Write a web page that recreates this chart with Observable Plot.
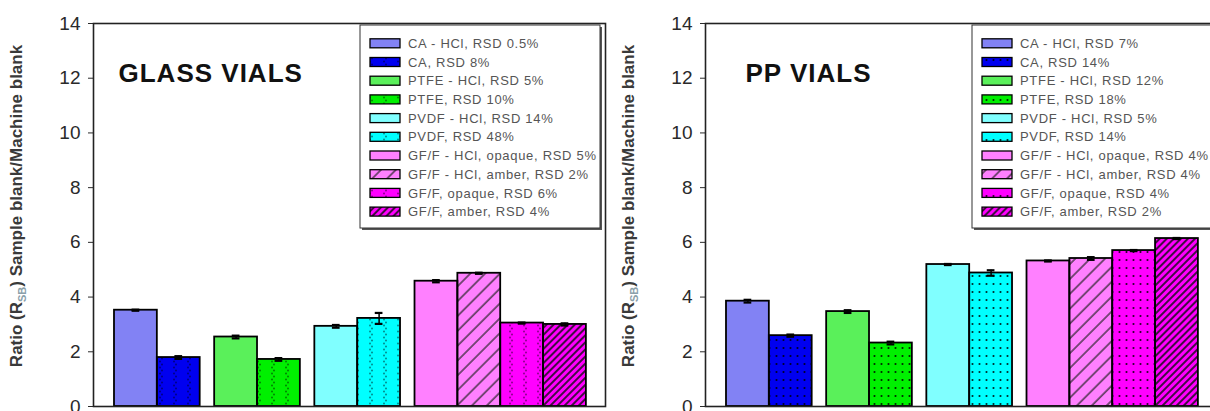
<!DOCTYPE html>
<html><head><meta charset="utf-8">
<script src="https://cdn.jsdelivr.net/npm/d3@7"></script>
<script src="https://cdn.jsdelivr.net/npm/@observablehq/plot@0.6"></script>
<style>
html,body{margin:0;padding:0;background:#fff;overflow:hidden}
#wrap{position:relative;width:1210px;height:411px;overflow:hidden}
#wrap svg{position:absolute;top:0;overflow:visible}
</style></head><body><div id="wrap"></div>
<script>
// ---- data ----
const categories = ["CA - HCl", "CA", "PTFE - HCl", "PTFE", "PVDF - HCl", "PVDF",
  "GF/F - HCl, opaque", "GF/F - HCl, amber", "GF/F, opaque", "GF/F, amber"];
const groups = [0, 0, 1, 1, 2, 2, 3, 3, 3, 3];
const colors = ["#8282f4", "#0000f0", "#5af05a", "#00f000", "#80ffff", "#00ffff",
  "#ff80ff", "#ff80ff", "#ff00ff", "#ff00ff"];
const fills = ["solid", "dots", "solid", "dots", "solid", "dots", "solid", "hatch", "dots", "hatchDense"];
const glassValues = [3.52, 1.79, 2.54, 1.72, 2.93, 3.22, 4.58, 4.87, 3.05, 3.00];
const glassErrors = [0.02, 0.05, 0.05, 0.05, 0.05, 0.20, 0.04, 0.02, 0.02, 0.04];
const glassRSD = ["0.5%", "8%", "5%", "10%", "14%", "48%", "5%", "2%", "6%", "4%"];
const ppValues = [3.85, 2.59, 3.47, 2.32, 5.19, 4.88, 5.32, 5.41, 5.70, 6.14];
const ppErrors = [0.05, 0.04, 0.05, 0.05, 0.02, 0.10, 0.02, 0.05, 0.02, 0.02];
const ppRSD = ["7%", "14%", "12%", "18%", "5%", "14%", "4%", "4%", "4%", "2%"];
const titles = ["GLASS VIALS", "PP VIALS"];
const yTicks = [0, 2, 4, 6, 8, 10, 12, 14];

const GAP = 0.338;
const FONT = "'Liberation Sans', Arial, sans-serif";

function rowsFor(values, errors, rsd) {
  return categories.map((c, i) => ({
    cat: c, pos: i + groups[i] * GAP, value: values[i], err: errors[i],
    color: colors[i], fill: fills[i], label: `${c}, RSD ${rsd[i]}`
  }));
}

function addPatterns(g, prefix, denseDots) {
  const defs = g.insert("defs", ":first-child");
  if (denseDots) {
    const p = defs.append("pattern").attr("id", prefix + "-dots").attr("patternUnits", "userSpaceOnUse")
      .attr("width", 7).attr("height", 8);
    p.append("circle").attr("cx", 3.5).attr("cy", 4).attr("r", 1.05).attr("fill", "#000").attr("opacity", 0.85);
  } else {
    const p = defs.append("pattern").attr("id", prefix + "-dots").attr("patternUnits", "userSpaceOnUse")
      .attr("width", 14).attr("height", 6);
    p.append("circle").attr("cx", 6).attr("cy", 1.5).attr("r", 1).attr("fill", "#000").attr("opacity", 0.45);
    p.append("circle").attr("cx", 8).attr("cy", 4.5).attr("r", 1).attr("fill", "#000").attr("opacity", 0.45);
  }
  const h = defs.append("pattern").attr("id", prefix + "-hatch").attr("patternUnits", "userSpaceOnUse")
    .attr("width", 10.5).attr("height", 10).attr("patternTransform", "rotate(45)");
  h.append("line").attr("x1", 1).attr("x2", 1).attr("y1", 0).attr("y2", 10).attr("stroke", "#222").attr("stroke-width", 1.2);
  const hd = defs.append("pattern").attr("id", prefix + "-hatchDense").attr("patternUnits", "userSpaceOnUse")
    .attr("width", 5).attr("height", 10).attr("patternTransform", "rotate(45)");
  hd.append("line").attr("x1", 1).attr("x2", 1).attr("y1", 0).attr("y2", 10).attr("stroke", "#111").attr("stroke-width", 1.6);
}

function panel({values, errors, rsd, title, prefix, left, width, marginLeft, titleDx, denseDots}) {
  const rows = rowsFor(values, errors, rsd);
  const pat = rows.filter(d => d.fill !== "solid");
  const svg = Plot.plot({
    width, height: 411,
    marginLeft, marginRight: width - marginLeft - 512, marginTop: 23, marginBottom: 5,
    style: {fontFamily: FONT, fontSize: "19px", color: "#2a2a2a", background: "transparent", overflow: "visible"},
    x: {domain: [-0.49, 11.46], axis: null},
    y: {domain: [0, 14], ticks: yTicks, tickSize: 5, tickPadding: 8, label: null, line: true},
    color: {type: "identity"},
    marks: [
      Plot.rectY(rows, {x1: "pos", x2: d => d.pos + 1, y: "value", fill: "color"}),
      Plot.rectY(pat, {x1: "pos", x2: d => d.pos + 1, y: "value", fill: d => `url(#${prefix}-${d.fill})`}),
      Plot.rectY(rows, {x1: "pos", x2: d => d.pos + 1, y: "value", fill: "none", stroke: "#000", strokeWidth: 1.8}),
      Plot.ruleX(rows, {x: d => d.pos + 0.5, y1: d => d.value - d.err, y2: d => d.value + d.err, stroke: "#000", strokeWidth: 1.5}),
      Plot.ruleY(rows, {y: d => d.value + d.err, x1: d => d.pos + 0.41, x2: d => d.pos + 0.59, stroke: "#000", strokeWidth: 2.2}),
      Plot.ruleY(rows, {y: d => d.value - d.err, x1: d => d.pos + 0.41, x2: d => d.pos + 0.59, stroke: "#000", strokeWidth: 2.2}),
      Plot.frame({stroke: "#222", strokeWidth: 1.6}),
      Plot.text([title], {text: d => d, frameAnchor: "top-left", dx: titleDx, dy: 40, textAnchor: "start",
        lineAnchor: "top", fontWeight: "bold", fontSize: 26, fill: "#111"})
    ]
  });
  svg.style.left = left + "px";
  const g = d3.select(svg);
  addPatterns(g, prefix, denseDots);
  g.selectAll('g[aria-label="text"] text').attr("letter-spacing", "1px");

  // y-axis title with subscript
  const lab = g.append("text")
    .attr("transform", `translate(${marginLeft - 71},206) rotate(-90)`)
    .attr("text-anchor", "middle").attr("font-weight", "bold").attr("font-size", 17)
    .attr("font-family", FONT).attr("fill", "#3a3a3a");
  lab.append("tspan").text("Ratio (R");
  lab.append("tspan").attr("font-size", 11).attr("dy", 4).attr("fill", "#8aa0aa").text("SB");
  lab.append("tspan").attr("dy", -4).text(") Sample blank/Machine blank");

  // legend
  const lx = marginLeft + 267, ly = 25, lw = 240, lh = 203;
  const lg = g.append("g").attr("text-anchor", "start");
  lg.append("rect").attr("x", lx + 2).attr("y", ly + 2).attr("width", lw).attr("height", lh).attr("fill", "#555");
  lg.append("rect").attr("x", lx).attr("y", ly).attr("width", lw).attr("height", lh)
    .attr("fill", "#fff").attr("stroke", "#333").attr("stroke-width", 1);
  rows.forEach((d, i) => {
    const cy = ly + 18.3 + i * 18.7;
    const sx = lx + 10, sw = 30, sh = 9;
    lg.append("rect").attr("x", sx).attr("y", cy - sh / 2).attr("width", sw).attr("height", sh).attr("fill", d.color);
    if (d.fill !== "solid")
      lg.append("rect").attr("x", sx).attr("y", cy - sh / 2).attr("width", sw).attr("height", sh)
        .attr("fill", `url(#${prefix}-${d.fill})`);
    lg.append("rect").attr("x", sx).attr("y", cy - sh / 2).attr("width", sw).attr("height", sh)
      .attr("fill", "none").attr("stroke", "#000").attr("stroke-width", 1.3);
    lg.append("text").attr("x", lx + 48).attr("y", cy).attr("dy", "0.36em").attr("text-anchor", "start")
      .attr("font-size", 13).attr("font-family", FONT).attr("letter-spacing", "0.7px")
      .attr("fill", "#555").text(d.label);
  });
  document.getElementById("wrap").appendChild(svg);
}

panel({values: glassValues, errors: glassErrors, rsd: glassRSD, title: titles[0], prefix: "g",
  left: 0, width: 606, marginLeft: 93, titleDx: 25, denseDots: false});
panel({values: ppValues, errors: ppErrors, rsd: ppRSD, title: titles[1], prefix: "p",
  left: 605, width: 617, marginLeft: 100, titleDx: 40, denseDots: true});
</script></body></html>
